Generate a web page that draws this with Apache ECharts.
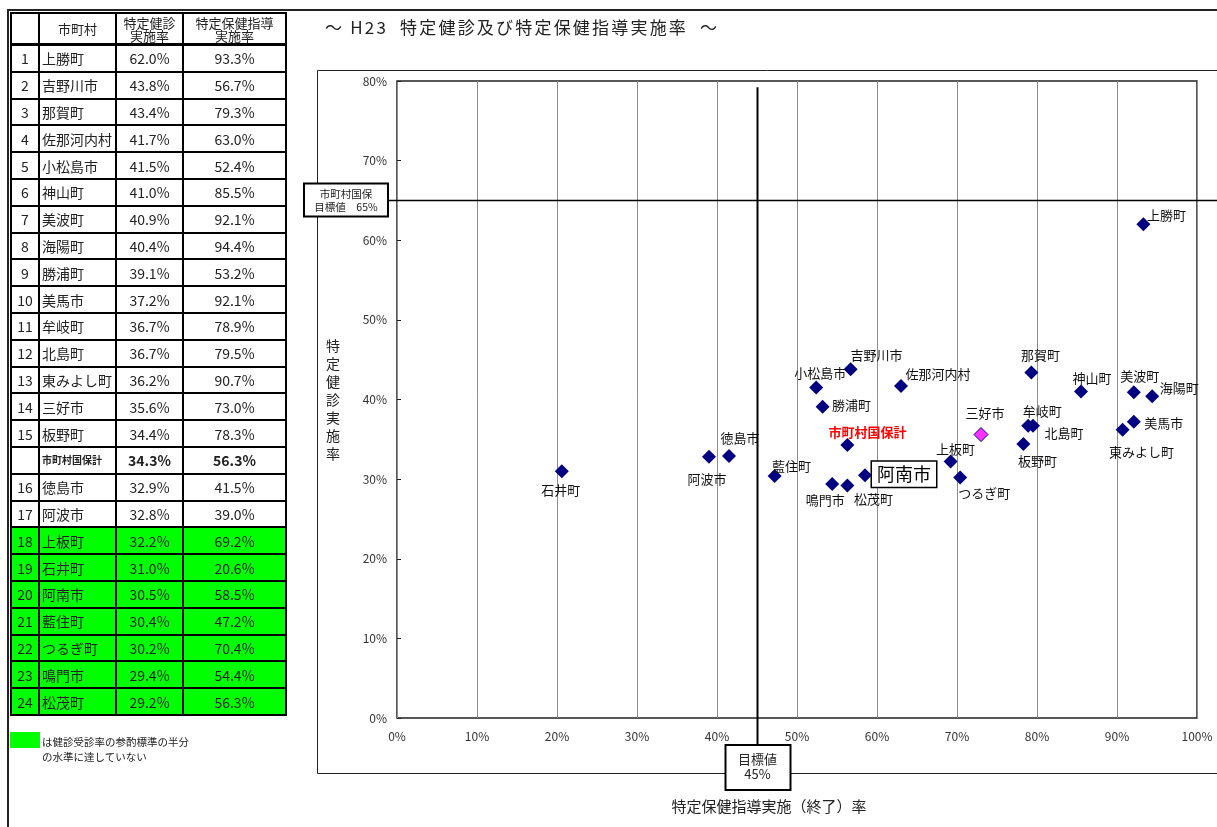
<!DOCTYPE html>
<html><head><meta charset="utf-8">
<script src="https://cdn.jsdelivr.net/npm/echarts@6/dist/echarts.min.js"></script>
<style>
html,body{margin:0;padding:0;background:#fff;font-family:"Noto Sans CJK JP",sans-serif;}
#chart{position:absolute;left:0;top:0;width:1217px;height:827px;}
#tbl{position:absolute;left:10px;top:12px;border-collapse:collapse;z-index:2;font-family:"Noto Sans CJK JP",sans-serif;color:#222;}
#tbl td{border:2px solid #000;padding:0;height:24.8px;font-size:14px;line-height:16px;}
#tbl td.no{text-align:center;width:26px;}
#tbl td.nm{text-align:left;padding-left:2px;width:73px;white-space:nowrap;}
#tbl td.v{text-align:center;}
#tbl tr.hd td{font-size:13px;line-height:13px;height:29px;text-align:center;border-bottom:3px solid #000;}
#tbl tr.g td{background:#00ff00;}
#tbl tr.tot td{font-weight:bold;}
#tbl tr.tot td.nm{font-size:10px;}
#frameL{position:absolute;left:7px;top:10px;width:2px;height:817px;background:#222;z-index:3;}
#frameT{position:absolute;left:7px;top:9px;width:1210px;height:2px;background:#222;z-index:3;}
#leg{position:absolute;left:10px;top:732px;width:30px;height:16px;background:#00ff00;}
#legt{position:absolute;left:42px;top:734px;font-size:10.5px;line-height:15px;color:#222;}
#ttl{position:absolute;left:325px;top:14px;font-size:17px;letter-spacing:2.2px;color:#222;white-space:pre;z-index:2;}
</style></head>
<body>
<div id="chart"></div>
<div id="frameL"></div><div id="frameT"></div>
<table id="tbl"></table>
<div id="leg"></div>
<div id="legt">は健診受診率の参酌標準の半分<br>の水準に達していない</div>
<div id="ttl"></div>
<script>
// ---- data ----
const titleText = '～ H23  特定健診及び特定保健指導実施率  ～';
const names = ['上勝町','吉野川市','那賀町','佐那河内村','小松島市','神山町','美波町','海陽町','勝浦町','美馬市','牟岐町','北島町','東みよし町','三好市','板野町','徳島市','阿波市','上板町','石井町','阿南市','藍住町','つるぎ町','鳴門市','松茂町'];
const kenshinRate = [62.0,43.8,43.4,41.7,41.5,41.0,40.9,40.4,39.1,37.2,36.7,36.7,36.2,35.6,34.4,32.9,32.8,32.2,31.0,30.5,30.4,30.2,29.4,29.2];
const shidoRate   = [93.3,56.7,79.3,63.0,52.4,85.5,92.1,94.4,53.2,92.1,78.9,79.5,90.7,73.0,78.3,41.5,39.0,69.2,20.6,58.5,47.2,70.4,54.4,56.3];
const totalName = '市町村国保計';
const totalKenshin = 34.3;
const totalShido = 56.3;
const greenFrom = 18; // rows 18..24 highlighted
const targetShido = 45;
const targetKenshin = 65;

// ---- label layout (offsets of label centre from point centre, px) ----
const labelOffset = {
 '上勝町':[23,-9],'吉野川市':[26,-14],'那賀町':[9,-17],'佐那河内村':[37,-12],'小松島市':[4,-14],
 '神山町':[11,-13],'美波町':[6,-16],'海陽町':[27,-8],'勝浦町':[29,-2],'美馬市':[30,1],
 '牟岐町':[14,-15],'北島町':[31,7],'東みよし町':[19,22],'三好市':[4,-21],'板野町':[14,17],
 '徳島市':[11,-18],'阿波市':[-2,22],'上板町':[5,-13],'石井町':[-1,19],'阿南市':[39,-1],
 '藍住町':[17,-10],'つるぎ町':[24,16],'鳴門市':[-7,16],'松茂町':[26,14]
};
labelOffset[totalName] = [20,-13];

document.getElementById('ttl').textContent = titleText;

// ---- table ----
const fmt = v => v.toFixed(1) + '%';
let html = '<tr class="hd"><td class="no"></td><td style="width:73px">市町村</td><td style="width:65px">特定健診<br>実施率</td><td style="width:101px">特定保健指導<br>実施率</td></tr>';
names.forEach((n,i)=>{
  const no = i+1;
  html += `<tr class="${no>=greenFrom?'g':''}"><td class="no">${no}</td><td class="nm">${n}</td><td class="v">${fmt(kenshinRate[i])}</td><td class="v">${fmt(shidoRate[i])}</td></tr>`;
  if(no===15){
    html += `<tr class="tot"><td class="no"></td><td class="nm">${totalName}</td><td class="v">${fmt(totalKenshin)}</td><td class="v">${fmt(totalShido)}</td></tr>`;
  }
});
document.getElementById('tbl').innerHTML = html;

// ---- chart ----
const FONT = '"Noto Sans CJK JP", sans-serif';
const chart = echarts.init(document.getElementById('chart'), null, {renderer:'canvas'});
const pts = names.map((n,i)=>{
  const o = labelOffset[n];
  const d = {name:n, value:[shidoRate[i], kenshinRate[i]], label:{offset:o}};
  if(n==='三好市'){ d.itemStyle = {color:'#ff33ff', borderColor:'#000080', borderWidth:1, opacity:1}; }
  if(n==='阿南市'){ d.label = {offset:o, fontSize:18, backgroundColor:'#fff', borderColor:'#000', borderWidth:1.5, padding:[4,5,3,5], color:'#000'}; }
  return d;
});
pts.push({name:totalName, value:[totalShido,totalKenshin], label:{offset:labelOffset[totalName], color:'#ff0000', fontWeight:'bold'}});

chart.setOption({
  animation:false,
  textStyle:{fontFamily:FONT},
  grid:{left:397, top:81, width:800, height:637, show:true, borderColor:'#222', borderWidth:1.5, backgroundColor:'transparent'},
  xAxis:{type:'value', min:0, max:100, interval:10,
    axisLine:{show:false}, axisTick:{show:false},
    splitLine:{show:true, lineStyle:{color:'#8c8c8c', width:1}},
    axisLabel:{formatter:'{value}%', fontSize:12, color:'#333', margin:12, fontFamily:FONT}},
  yAxis:{type:'value', min:0, max:80, interval:10,
    axisLine:{show:false}, axisTick:{show:true, inside:true, length:4, lineStyle:{color:'#222'}},
    splitLine:{show:false},
    axisLabel:{formatter:'{value}%', fontSize:12, color:'#333', margin:10, fontFamily:FONT},
    name:'特\n定\n健\n診\n実\n施\n率', nameLocation:'middle', nameGap:57, nameRotate:0,
    nameTextStyle:{fontSize:14, lineHeight:18, color:'#222', fontFamily:FONT}},
  series:[{
    type:'scatter', symbol:'diamond', symbolSize:14,
    itemStyle:{color:'#000080', opacity:1},
    emphasis:{disabled:true},
    label:{show:true, position:'inside', formatter:'{b}', fontSize:13, color:'#111', fontFamily:FONT},
    data:pts, z:5
  }]
});

// reference lines & boxes via axis scale
const p45top = chart.convertToPixel({gridIndex:0},[targetShido,79.2]);
const p65 = chart.convertToPixel({gridIndex:0},[0,targetKenshin]);
const x45 = Math.round(p45top[0])+0.5, y65 = Math.round(p65[1])+0.5;
chart.setOption({graphic:[
  {type:'rect', shape:{x:317.5,y:70.5,width:940,height:703}, style:{fill:null, stroke:'#222', lineWidth:1}, z:1},
  {type:'line', shape:{x1:x45,y1:p45top[1],x2:x45,y2:745}, style:{stroke:'#000', lineWidth:2}, z:10},
  {type:'line', shape:{x1:388,y1:y65,x2:1217,y2:y65}, style:{stroke:'#000', lineWidth:1.5}, z:10},
  {type:'rect', shape:{x:x45-32,y:745,width:65,height:45}, style:{fill:'#fff', stroke:'#000', lineWidth:2}, z:11},
  {type:'text', x:x45, y:767, style:{text:'目標値\n45%', font:'13px '+FONT, fill:'#222', align:'center', verticalAlign:'middle', lineHeight:15}, z:12},
  {type:'rect', shape:{x:304,y:y65-17,width:84,height:33}, style:{fill:'#fff', stroke:'#000', lineWidth:2}, z:11},
  {type:'text', x:346, y:y65, style:{text:'市町村国保\n目標値　65%', font:'10.5px '+FONT, fill:'#222', align:'center', verticalAlign:'middle', lineHeight:13}, z:12},
  {type:'text', x:769, y:806, style:{text:'特定保健指導実施（終了）率', font:'15px '+FONT, fill:'#222', align:'center', verticalAlign:'middle'}, z:12}
]});
</script>
</body></html>
